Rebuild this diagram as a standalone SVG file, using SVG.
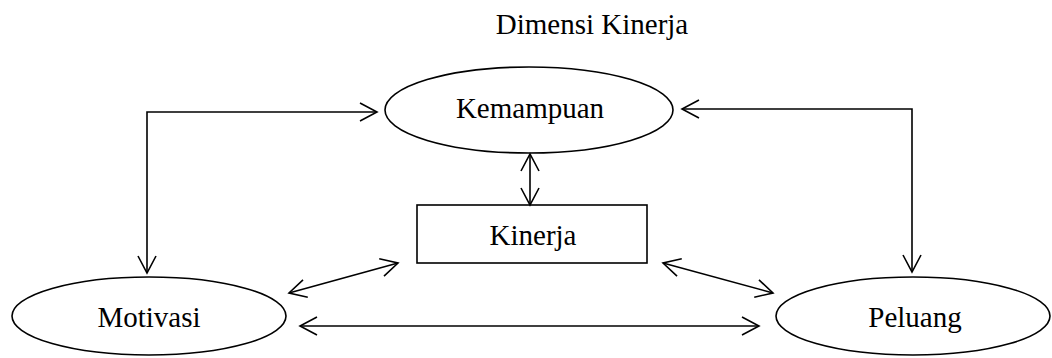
<svg xmlns="http://www.w3.org/2000/svg" width="1052" height="358" viewBox="0 0 1052 358">
  <style>
    .shape { fill: #ffffff; stroke: #000000; stroke-width: 1.6; }
    .label { font-family: "Liberation Serif", "Times New Roman", serif; font-size: 29px; fill: #000000; text-anchor: middle; }
    .link { fill: none; stroke: #000000; stroke-width: 1.6; marker-start: url(#head); marker-end: url(#head); }
  </style>
  <defs>
    <!-- open V arrowhead, used at both ends of every connector -->
    <marker id="head" viewBox="0 0 20 20" markerWidth="20" markerHeight="20" markerUnits="userSpaceOnUse" refX="18" refY="10" orient="auto-start-reverse" overflow="visible">
      <path d="M1,1 L18,10 L1,19" fill="none" stroke="#000000" stroke-width="1.6"/>
    </marker>
  </defs>

  <rect width="1052" height="358" fill="#ffffff"/>

  <text class="label" x="592" y="34">Dimensi Kinerja</text>

  <g id="kemampuan">
    <ellipse class="shape" cx="529" cy="110" rx="144" ry="43"/>
    <text class="label" x="530" y="118">Kemampuan</text>
  </g>

  <g id="kinerja">
    <rect class="shape" x="417" y="205" width="230" height="58"/>
    <text class="label" x="533" y="245" font-size="30">Kinerja</text>
  </g>

  <g id="motivasi">
    <ellipse class="shape" cx="149" cy="316" rx="137" ry="39"/>
    <text class="label" x="149" y="327">Motivasi</text>
  </g>

  <g id="peluang">
    <ellipse class="shape" cx="913" cy="316" rx="137" ry="39"/>
    <text class="label" x="915" y="327">Peluang</text>
  </g>

  <g id="connectors">
    <path class="link" d="M377,112 L147,112 L147,273"/>
    <path class="link" d="M682,109 L912,109 L912,272"/>
    <path class="link" d="M530,154 L530,205"/>
    <path class="link" d="M289,293 L398,263"/>
    <path class="link" d="M663,263 L773,293"/>
    <path class="link" d="M300,326 L759,326"/>
  </g>
</svg>
